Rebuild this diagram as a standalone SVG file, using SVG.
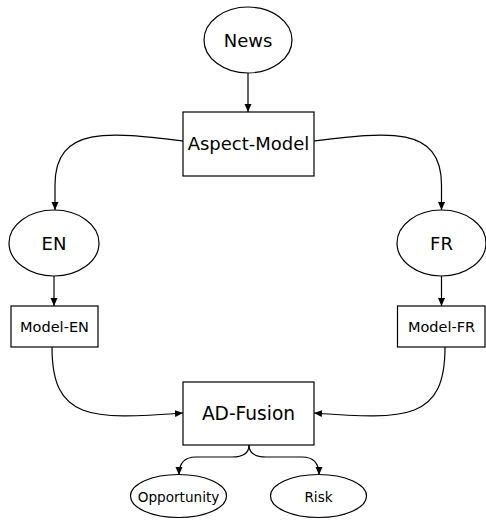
<svg xmlns="http://www.w3.org/2000/svg" width="486" height="520" viewBox="0 0 486 520">
<defs>
<marker id="arr" viewBox="0 0 8 8" refX="8" refY="4" markerWidth="8" markerHeight="8" markerUnits="userSpaceOnUse" orient="auto">
<path d="M0,0.5 L8,4 L0,7.5 z" fill="#000"/>
</marker>
<style>
.n{fill:#fff;stroke:#000;stroke-width:1.2}
.t{font-family:"DejaVu Sans",Verdana,sans-serif;fill:#000;text-anchor:middle}
.e{fill:none;stroke:#000;stroke-width:1.2;marker-end:url(#arr)}
</style>
</defs>
<rect width="486" height="520" fill="#fff"/>
<g id="connectors">
<path class="e" d="M248,73 L248,112"/>
<path class="e" d="M183,141 C110,132 55,125 55,185 L55,210"/>
<path class="e" d="M314,141 C387,132 441.5,125 441.5,185 L441.5,210"/>
<path class="e" d="M54,276 L54,306"/>
<path class="e" d="M441.5,276 L441.5,306"/>
<path class="e" d="M52,347 C52,420 90,420 183,413"/>
<path class="e" d="M445,347 C445,420 407,420 314,413"/>
<path class="e" d="M249,445 Q249,457 232,457 L196,457 Q179,457 179,475"/>
<path class="e" d="M249,445 Q249,457 266,457 L302,457 Q319,457 319,475"/>
</g>
<g id="news"><ellipse class="n" cx="248" cy="40" rx="44" ry="33"/><text class="t" x="248" y="47" font-size="18">News</text></g>
<g id="aspect-model"><rect class="n" x="183" y="112" width="131" height="64"/><text class="t" x="248.5" y="149.5" font-size="18">Aspect-Model</text></g>
<g id="en"><ellipse class="n" cx="54" cy="243" rx="45" ry="33"/><text class="t" x="54" y="250" font-size="18">EN</text></g>
<g id="fr"><ellipse class="n" cx="441.5" cy="243" rx="44.5" ry="33"/><text class="t" x="441.5" y="250" font-size="18">FR</text></g>
<g id="model-en"><rect class="n" x="11" y="306" width="87" height="41"/><text class="t" x="54.5" y="332" font-size="14.5">Model-EN</text></g>
<g id="model-fr"><rect class="n" x="397.5" y="306" width="87.5" height="41"/><text class="t" x="441.5" y="332" font-size="14.5">Model-FR</text></g>
<g id="ad-fusion"><rect class="n" x="183" y="382" width="131" height="63"/><text class="t" x="248.5" y="419.5" font-size="18.6">AD-Fusion</text></g>
<g id="opportunity"><ellipse class="n" cx="178.5" cy="496" rx="48" ry="21.5"/><text class="t" x="178.5" y="502" font-size="13.6">Opportunity</text></g>
<g id="risk"><ellipse class="n" cx="318.5" cy="496" rx="48" ry="21.5"/><text class="t" x="318.5" y="502" font-size="13.6">Risk</text></g>
</svg>
